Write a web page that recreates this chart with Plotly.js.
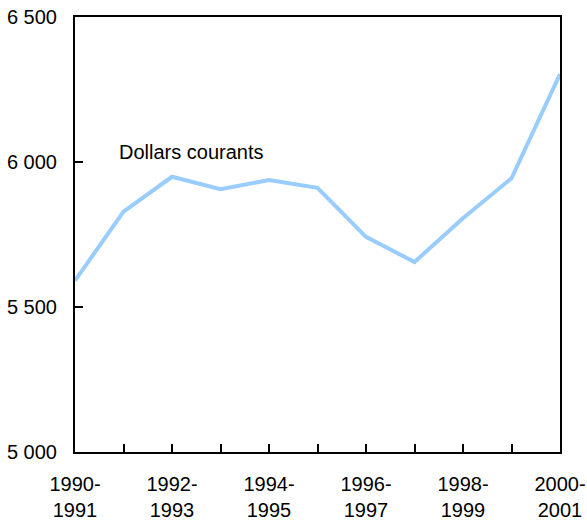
<!DOCTYPE html>
<html>
<head>
<meta charset="utf-8">
<script src="https://cdn.plot.ly/plotly-3.0.1.min.js"></script>
<style>html,body{margin:0;padding:0;background:#fff;}#chart{width:587px;height:521px;}</style>
</head>
<body>
<div id="chart"></div>
<script>
var categories = ["1990-1991","1991-1992","1992-1993","1993-1994","1994-1995","1995-1996","1996-1997","1997-1998","1998-1999","1999-2000","2000-2001"];
var values = [5591, 5829, 5949, 5906, 5938, 5911, 5742, 5655, 5806, 5944, 6303];
var tickLabels = ["1990-<br>1991","","1992-<br>1993","","1994-<br>1995","","1996-<br>1997","","1998-<br>1999","","2000-<br>2001"];
var yTicks = [5000, 5500, 6000, 6500];
var seriesLabel = "Dollars courants";

var font = {family: "Liberation Sans, Arial, sans-serif", size: 20, color: "#000"};

var trace = {
  x: categories,
  y: values,
  type: "scatter",
  mode: "lines",
  line: {color: "#99CCFF", width: 4},
  hoverinfo: "skip"
};

var layout = {
  width: 587,
  height: 521,
  margin: {l: 75, r: 27, t: 17, b: 69},
  paper_bgcolor: "#fff",
  plot_bgcolor: "#fff",
  separators: ", ",
  showlegend: false,
  font: font,
  xaxis: {
    type: "category",
    range: [0, 10],
    tickvals: categories,
    ticktext: tickLabels,
    ticks: "inside",
    ticklen: 8,
    tickwidth: 2,
    tickcolor: "#000",
    showline: true,
    linewidth: 2,
    linecolor: "#000",
    mirror: true,
    showgrid: false,
    zeroline: false,
    ticklabelstandoff: 13,
    tickfont: font
  },
  yaxis: {
    range: [5000, 6500],
    tickvals: yTicks,
    tickformat: ",d",
    ticks: "inside",
    ticklen: 8,
    tickwidth: 2,
    tickcolor: "#000",
    showline: true,
    linewidth: 2,
    linecolor: "#000",
    mirror: true,
    showgrid: false,
    zeroline: false,
    ticklabelstandoff: 12,
    tickfont: font
  },
  annotations: [{
    x: 0.86,
    y: 6035,
    xref: "x",
    yref: "y",
    text: seriesLabel,
    showarrow: false,
    xanchor: "left",
    yanchor: "middle",
    font: font
  }]
};

Plotly.newPlot("chart", [trace], layout, {displayModeBar: false, staticPlot: true});
</script>
</body>
</html>
